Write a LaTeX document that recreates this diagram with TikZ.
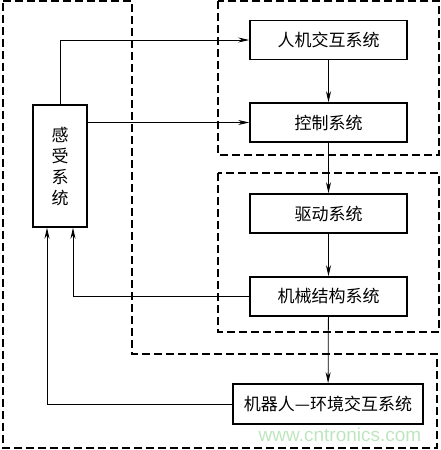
\documentclass[tikz,border=0pt]{standalone}
\usepackage{fontspec}
\newfontfamily\cjk{Noto Sans CJK SC}
\setsansfont{Liberation Sans}
\usetikzlibrary{arrows.meta}
\begin{document}
\begin{tikzpicture}[x=1pt,y=-1pt,
  box/.style={draw, line width=1.6pt, minimum width=157pt, minimum height=39pt, inner sep=0pt, font=\cjk\fontsize{17}{21}\selectfont},
  conn/.style={line width=0.8pt, -{Stealth[length=11pt,width=5pt]}},
  plain/.style={line width=0.8pt},
  region/.style={line width=1.5pt, dash pattern=on 8pt off 4pt}]
\useasboundingbox (0,0) rectangle (441,450);
% dashed regions
\draw[region] (3,1) -- (132,1) -- (132,354) -- (437,354) -- (437,448) -- (3,448) -- cycle;
\draw[region] (218,1) rectangle (439,155);
\draw[region] (218,173) rectangle (439,332);
% boxes
\node[box] (hmi) at (328.5,40) {人机交互系统};
\node[box] (ctrl) at (328.5,122.5) {控制系统};
\node[box] (drive) at (328.5,213.5) {驱动系统};
\node[box] (mech) at (328.5,296.5) {机械结构系统};
\node[box, minimum width=190pt, minimum height=40pt] (env) at (328,404) {机器人—环境交互系统};
\node[box, minimum width=54pt, minimum height=122pt, align=center, font=\cjk\fontsize{17}{21}\selectfont] (sense) at (60,166) {感\\受\\系\\统};
% connectors
\draw[conn] (sense.north) |- (hmi.west);
\draw[conn] (sense.east |- ctrl.west) -- (ctrl.west);
\draw[conn] (hmi) -- (ctrl);
\draw[conn] (ctrl) -- (drive);
\draw[conn] (drive) -- (mech);
\draw[conn] (mech) -- (env);
\coordinate (s1) at ([xshift=13pt]sense.south);
\coordinate (s2) at ([xshift=-13pt]sense.south);
\draw[conn] (mech.west) -| (s1);
\draw[conn] (env.west) -| (s2);
% watermark
\node[text={rgb,255:red,190;green,230;blue,190}, font=\sffamily\fontsize{19}{22}\selectfont, inner sep=0pt] (wm) at (340,435) {www.cntronics.com};
\end{tikzpicture}
\end{document}
